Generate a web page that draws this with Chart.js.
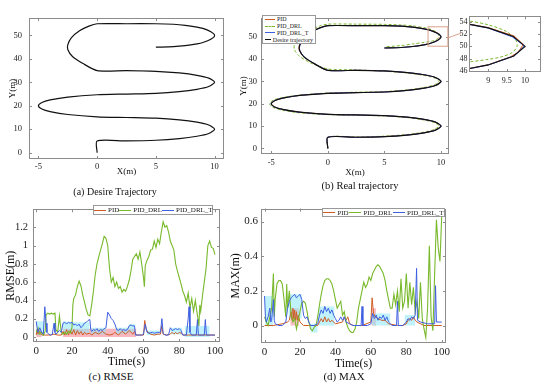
<!DOCTYPE html>
<html>
<head>
<meta charset="utf-8">
<script src="https://cdn.jsdelivr.net/npm/chart.js@4.4.1/dist/chart.umd.min.js"></script>
<style>
  body { margin: 0; width: 550px; height: 387px; background: #fff; position: relative; overflow: hidden; font-family: 'Liberation Serif', serif; }
  canvas { position: absolute; }
  .cap { position: absolute; transform: translate(-50%, -50%); white-space: nowrap; color: #111; }
  .lg { position: absolute; background: #fff; border: 1px solid #999; box-sizing: border-box; display: flex; color: #222; }
  .lg .it { display: flex; align-items: center; white-space: nowrap; }
  .lg .ln { display: inline-block; border-top-width: 1px; margin-right: 2px; }
</style>
</head>
<body>
<canvas id="chA"></canvas>
<canvas id="chB"></canvas>
<canvas id="chZ"></canvas>
<canvas id="chC"></canvas>
<canvas id="chD"></canvas>

<div class="lg" id="lgB" style="left:262px;top:15px;width:54px;height:29px;flex-direction:column;justify-content:space-around;padding:0 2px;font-size:6px"></div>
<div class="lg" id="lgC" style="left:93px;top:205px;width:120px;height:10px;align-items:center;justify-content:space-around;font-size:7px"></div>
<div class="lg" id="lgD" style="left:322px;top:208px;width:123px;height:9px;align-items:center;justify-content:space-around;font-size:7px"></div>

<div class="cap" style="left:115px;top:191px;font-size:10px">(a) Desire Trajectory</div>
<div class="cap" style="left:360px;top:185px;font-size:10.5px">(b) Real trajectory</div>
<div class="cap" style="left:111px;top:376px;font-size:11px">(c) RMSE</div>
<div class="cap" style="left:344px;top:376px;font-size:11px">(d) MAX</div>

<script>
// series names and colours
const seriesNames = ['PID', 'PID_DRL', 'PID_DRL_T'];
const seriesColors = ['#cf5b23', '#79b92c', '#3f5fe0'];
const desireName = 'Desire trajectory';
const desireColor = '#111';

// tick labels
const trajTicksX = [-5, 0, 5, 10];
const trajTicksY = [0, 10, 20, 30, 40, 50];
const zoomTicksX = [9, 9.5, 10];
const zoomTicksY = [46, 48, 50, 52, 54];
const timeTicks = [0, 20, 40, 60, 80, 100];
const rmseTicks = [0, 0.2, 0.4, 0.6, 0.8, 1, 1.2];
const maxTicks = [0, 0.2, 0.4, 0.6];

// zoomed window marked in (b): xmin, xmax, ymin, ymax
const zoomBox = [8.85, 10.6, 45.8, 54.5];

// trajectories [x, y] in metres
const desireTraj = [[0,0],[0,5],[2.5,5],[5,5.29],[7,6],[8.5,7],[9.5,8.2],[10,10],[9.5,11.8],[8.5,13],[7,14],[5,14.71],[2.5,15],[0,15.29],[-2.5,16.27],[-4,17.5],[-4.7,18.6],[-5,20],[-4.7,21.4],[-4,22.5],[-2.5,23.73],[0,24.71],[2.5,25],[5,25.29],[7,26],[8.5,27],[9.5,28.2],[10,30],[9.5,31.8],[8.5,33],[7,34],[5,34.71],[2.5,35],[0,35],[-1.2,38],[-2.1,41],[-2.5,44],[-2.5,46],[-2.2,49],[-1.5,52],[-0.7,54],[0,55],[2.5,55],[5,55],[6.5,54.77],[7.5,54.33],[8.5,53.57],[9,53],[9.68,51.6],[10,50],[9.68,48.4],[9,47],[8.5,46.43],[7.5,45.67],[6.5,45.23],[5,45]];
const pidTraj = [[0,0],[0,5],[2.5,5.02],[5,5.3],[7,6.02],[8.5,7.03],[9.5,8.25],[9.98,10],[9.5,11.8],[8.5,12.98],[7,13.98],[5,14.7],[2.5,15],[0,15.3],[-2.5,16.28],[-4,17.52],[-4.7,18.62],[-4.98,20],[-4.7,21.4],[-4,22.48],[-2.5,23.72],[0,24.7],[2.5,25],[5,25.3],[7,26.02],[8.5,27.03],[9.5,28.25],[9.98,30],[9.5,31.8],[8.5,32.98],[7,33.98],[5,34.7],[2.5,35],[0,35.02],[-1.22,38],[-2.12,41],[-2.52,44],[-2.52,46],[-2.22,49],[-1.52,52],[-0.72,54],[0,55.02],[2.5,55],[5,55],[6.5,54.78],[7.5,54.35],[8.5,53.6],[9,53.05],[9.7,51.7],[9.95,50.3],[9.8,49],[9.6,48.3],[9,47.02],[8.5,46.45],[7.5,45.68],[6.5,45.24],[5,45]];
const drlTraj = [[0,0],[0,5],[2.5,5.15],[5,5.5],[7,6.25],[8.5,7.3],[9.4,8.5],[9.8,10],[9.4,11.6],[8.4,12.8],[7,13.8],[5,14.55],[2.5,14.9],[0,15.15],[-2.5,15.95],[-4,17.1],[-4.85,18.4],[-5.15,20],[-4.85,21.6],[-4,22.8],[-2.5,23.9],[0,24.85],[2.5,25.2],[5,25.5],[7,26.25],[8.5,27.3],[9.4,28.5],[9.8,30],[9.4,31.6],[8.4,32.8],[7,33.8],[5,34.6],[2.5,35.2],[0,35.6],[-1.5,38.3],[-2.5,41.3],[-2.95,44.2],[-2.95,46.5],[-2.55,49.5],[-1.7,52.6],[-0.7,54.9],[0,55.7],[2.5,55.7],[5,55.6],[6.5,55.3],[7.5,54.9],[8.5,54.1],[9,53.5],[9.5,52.4],[9.75,51],[9.78,50],[9.65,49],[9.35,48.3],[9,47.9],[8.5,47.5],[7.5,46.8],[6.5,46.1],[5,45.5]];
const drlTTraj = [[0,0],[0,5],[2.5,4.98],[5,5.27],[7,5.98],[8.5,6.97],[9.5,8.18],[10.02,10],[9.5,11.82],[8.5,13.02],[7,14.02],[5,14.72],[2.5,15.01],[0,15.28],[-2.5,16.25],[-4,17.48],[-4.72,18.58],[-5.02,20],[-4.72,21.42],[-4,22.52],[-2.5,23.75],[0,24.72],[2.5,25.01],[5,25.28],[7,25.98],[8.5,26.97],[9.5,28.18],[10.02,30],[9.5,31.82],[8.5,33.02],[7,34.02],[5,34.72],[2.5,35.01],[0,34.98],[-1.18,38],[-2.08,41],[-2.48,44],[-2.48,46],[-2.18,49],[-1.48,52],[-0.68,54],[0,54.98],[2.5,55.01],[5,55.01],[6.5,54.76],[7.5,54.32],[8.5,53.55],[9,52.98],[9.65,51.55],[9.98,50.1],[9.72,48.5],[9,46.98],[8.5,46.4],[7.5,45.65],[6.5,45.22],[5,45]];

// RMSE [time s, value m]
const rmsePid = [[0,0.02],[0.5,0.08],[1,0.03],[2,0.06],[3,0.02],[5,0.02],[8,0.02],[10,0.03],[12,0.02],[14,0.02],[15,0.06],[16,0.02],[17,0.08],[18,0.02],[19,0.07],[20,0.03],[21,0.08],[22,0.02],[23,0.07],[24,0.03],[25,0.06],[26,0.02],[27,0.05],[28,0.03],[30,0.04],[31,0.02],[33,0.05],[35,0.03],[37,0.06],[39,0.03],[41,0.02],[43,0.03],[44,0.05],[46,0.02],[48,0.06],[50,0.03],[52,0.07],[54,0.03],[55,0.06],[56,0.02],[58,0.02],[60,0.02],[60.7,0.18],[61.5,0.08],[62.5,0.05],[64,0.03],[66,0.02],[68,0.03],[69.5,0.03],[70.2,0.12],[71,0.03],[73,0.02],[75,0.03],[76,0.05],[77,0.03],[78,0.05],[79,0.03],[80,0.05],[81,0.04],[82,0.02],[85,0.02],[90,0.02],[95,0.02],[100,0.02]];
const rmseDrl = [[0,0.05],[1,0.1],[2,0.03],[3,0.05],[4,0.02],[5,0.06],[5.5,0.24],[6.5,0.26],[7.5,0.25],[8.5,0.26],[9.5,0.25],[10.5,0.26],[11,0.08],[12,0.05],[13,0.23],[14,0.05],[15,0.03],[16,0.05],[17,0.03],[18,0.06],[19,0.04],[20,0.1],[20.5,0.35],[21,0.42],[22,0.46],[23,0.55],[24,0.61],[25,0.56],[26,0.46],[27,0.38],[28,0.3],[29,0.24],[30,0.23],[31,0.35],[32,0.5],[33,0.68],[34,0.8],[35,0.88],[36,0.95],[37,1.02],[38,1.1],[39,1.08],[40,1.0],[41,0.75],[42,0.6],[43,0.65],[44,0.55],[45,0.6],[46,0.53],[47,0.55],[48,0.49],[49,0.52],[50,0.5],[51,0.55],[52,0.62],[53,0.72],[54,0.85],[55,0.88],[56,0.91],[57,0.85],[58,0.93],[59,0.8],[60,0.65],[60.5,0.55],[61,0.78],[62,0.84],[63,0.88],[64,0.95],[65,0.96],[66,1.05],[67,0.98],[68,1.07],[69,1.02],[70,1.15],[71,1.26],[72,1.2],[73,1.22],[74,1.15],[75,1.05],[76,1.0],[77,0.95],[78,0.8],[79,0.72],[80,0.65],[81,0.58],[82,0.5],[83,0.45],[84,0.38],[85,0.48],[86,0.32],[87,0.42],[88,0.28],[89,0.4],[90,0.26],[91,0.12],[91.5,0.35],[92,0.28],[93,0.45],[94,0.6],[95,0.75],[96,1.0],[97,1.05],[98,0.98],[99,0.97],[100,0.9]];
const rmseDrlT = [[0,0.17],[0.5,0.1],[1,0.05],[2,0.1],[3,0.05],[4,0.03],[4.8,0.33],[5.5,0.15],[6,0.05],[7,0.03],[8,0.02],[9,0.03],[10,0.15],[10.5,0.05],[11,0.03],[12,0.05],[13,0.07],[14,0.05],[15,0.15],[16,0.16],[17,0.14],[18,0.16],[19,0.15],[20,0.16],[21,0.13],[22,0.14],[23,0.12],[24,0.14],[25,0.1],[26,0.12],[27,0.15],[28,0.16],[29,0.18],[30,0.19],[30.5,0.08],[31,0.06],[32,0.08],[33,0.07],[34,0.09],[35,0.06],[36,0.08],[37,0.07],[38,0.09],[39,0.1],[40,0.27],[41,0.24],[42,0.2],[43,0.18],[44,0.14],[45,0.08],[46,0.07],[47,0.09],[48,0.07],[49,0.08],[50,0.07],[51,0.08],[52,0.12],[53,0.13],[54,0.12],[55,0.12],[55.5,0.02],[57,0.02],[59,0.02],[60,0.03],[61,0.14],[62,0.05],[63,0.04],[65,0.05],[66,0.04],[68,0.05],[69.5,0.05],[70.3,0.2],[71,0.04],[72,0.02],[74,0.02],[75,0.1],[76,0.07],[77,0.08],[78,0.09],[79,0.08],[80,0.09],[81,0.07],[82,0.02],[84,0.02],[85,0.2],[85.5,0.33],[86,0.05],[87,0.02],[89.5,0.02],[90.2,0.19],[90.7,0.02],[94,0.02],[94.6,0.19],[95.2,0.02],[98,0.02],[100,0.02]];
// dense-oscillation envelopes [time, low, high]
const rmseCyan = [[0.3,0.02,0.17],[4.5,0.02,0.17],[4.6,null,null],[14.8,0.03,0.17],[21,0.04,0.16],[29.8,0.04,0.16],[30.2,null,null],[30.6,0.03,0.1],[39,0.03,0.1],[39.5,null,null],[44.5,0.03,0.1],[51.5,0.04,0.1],[51.8,0.05,0.14],[55.3,0.05,0.14],[55.6,null,null],[62,0.02,0.07],[69,0.02,0.07],[69.5,null,null],[75.2,0.03,0.1],[81.8,0.03,0.1],[82.5,null,null],[83,0,0.12],[97,0,0.12]];
const rmsePink = [[0,0,0.08],[3,0,0.08],[3.2,null,null],[15,0,0.09],[56,0,0.09]];

// MAX [time s, value m]
const maxPid = [[0,0],[5,0],[10,0.01],[13,0.02],[14,0.03],[15,0.08],[15.5,0.03],[16,0.1],[16.5,0.04],[17,0.09],[17.5,0.03],[18,0.08],[18.5,0.03],[19,0.06],[20,0.02],[22,0],[25,0],[30,0],[31,0.02],[32,0.04],[33,0.02],[34,0.05],[35,0.02],[36,0.04],[37,0.02],[38,0.03],[40,0.01],[44,0.02],[45,0.05],[46,0.03],[47,0.05],[48,0.01],[50,0],[55,0],[60,0.02],[60.7,0.16],[61.5,0.07],[62.5,0.05],[64,0.04],[66,0.03],[68,0.03],[70,0.01],[75,0],[78,0],[80,0.01],[81,0.03],[82,0.04],[83,0.03],[84,0.05],[85,0.03],[86,0.02],[90,0],[95,0],[100,0]];
const maxDrl = [[0,0.05],[1,0.02],[2,0],[3,0.05],[4,0.1],[5,0.3],[5.5,0.05],[6,0.15],[7,0.24],[8,0.26],[9,0.26],[10,0.24],[11,0.15],[12,0.05],[12.5,0.24],[13,0.1],[14,0.2],[15,0.06],[16,0.02],[17,0.04],[18,-0.02],[19,0.03],[20,0.08],[21,0.13],[22,0.14],[23,0.13],[24,0.08],[25,0.02],[26,-0.02],[27,-0.03],[28,-0.01],[29,0],[30,0.05],[31,0.12],[32,0.18],[33,0.23],[34,0.26],[35,0.27],[36,0.27],[37,0.26],[38,0.24],[39,0.2],[40,0.15],[41,0.1],[42,0.12],[43,0.14],[44,0.06],[45,0.08],[46,0.02],[47,-0.01],[48,-0.03],[49,-0.04],[50,-0.04],[51,-0.02],[52,0.02],[53,0.1],[54,0.15],[55,0.2],[56,0.25],[57,0.22],[58,0.24],[59,0.28],[60,0.26],[61,0.3],[62,0.32],[63,0.34],[64,0.35],[65,0.34],[66,0.32],[67,0.3],[68,0.26],[69,0.2],[70,0.15],[71,0.1],[72,0.1],[73,0.18],[74,0.12],[75,0.2],[76,0.08],[77,0.27],[78,0.1],[79,0.14],[80,0.3],[81,0.1],[82,0.25],[83,0.12],[84,0.22],[85,0.08],[86,0.14],[87,0.04],[88,0.25],[89,0.04],[90,-0.02],[91,-0.07],[92,0.1],[93,0.46],[94,0.05],[95,-0.03],[96,0.3],[97,0.61],[98,0.45],[99,0.37],[100,0.64]];
const maxDrlT = [[0,0.17],[0.5,0.05],[1,0.02],[2,0.05],[3,0.1],[3.5,0.02],[4,0.03],[5,0.15],[5.5,0.03],[6,0.01],[8,0],[10,0],[12,0.02],[13,0.1],[14,0.14],[15,0.16],[16,0.17],[17,0.18],[18,0.16],[19,0.17],[20,0.18],[21,0.15],[22,0.06],[23,0.04],[24,0.05],[25,0.02],[26,0],[28,0],[30,0.01],[31,0.06],[32,0.09],[33,0.07],[34,0.11],[35,0.08],[36,0.1],[37,0.07],[38,0.09],[39,0.06],[40,0.04],[41,0.02],[42,0.03],[43,0.05],[44,0.03],[45,0.05],[46,0.02],[48,0.01],[50,0],[54.5,0],[55,0.11],[55.5,0],[58,0],[60,0.01],[61,0.07],[62,0.04],[63,0.06],[64,0.03],[65,0.05],[66,0.04],[67,0.06],[68,0.03],[69,0.05],[70,0.02],[72,0],[74.5,0],[75,0.14],[75.5,0],[78,0],[80,0.02],[81,0.04],[82,0.03],[83,0.05],[84,0.04],[85,0.06],[85.8,0.33],[86.3,0.03],[88,0.02],[92,0.01],[96,0.01],[96.5,0.23],[97,0.02],[100,0.02]];
const maxCyan = [[0.3,0,0.17],[5,0,0.17],[5.3,null,null],[13.5,0.04,0.18],[21,0.04,0.18],[21.3,null,null],[26,-0.04,0.01],[30,-0.04,0.01],[30.3,null,null],[30.6,0,0.11],[39.5,0,0.11],[40,null,null],[60.5,0,0.07],[71,0,0.07],[71.5,null,null],[79,0,0.06],[85,0,0.06]];
const maxPink = [[14.5,0,0.1],[19.5,0,0.1],[20,null,null],[60.3,0,0.1],[63,0,0.1]];

const serif = 'Liberation Serif';

// put a canvas so that its plot area lands on box (page px)
function place(id, box, pad) {
  const c = document.getElementById(id);
  const left = box.l - pad.yw, top = box.t - pad.t;
  c.width = box.r - left + pad.r;
  c.height = box.b - top + pad.xh;
  c.style.left = left + 'px';
  c.style.top = top + 'px';
  return c;
}

function scaleCfg(axis, min, max, tickVals, o) {
  return {
    type: 'linear', min, max,
    grid: { display: false, drawTicks: false },
    border: { display: false },
    afterBuildTicks: s => { s.ticks = tickVals.map(v => ({ value: v })); },
    afterFit: s => { if (axis === 'x') s.height = o.size; else s.width = o.size; },
    ticks: { font: { family: serif, size: o.tickSize }, color: '#222', padding: o.tickPad, maxRotation: 0, autoSkip: false, callback: v => String(v) },
    title: { display: !!o.title, text: o.title || '', font: { family: serif, size: o.titleSize || 9 }, color: '#111', padding: o.titlePad || 0 }
  };
}

function lineDs(label, pairs, color, o = {}) {
  return {
    label, data: pairs.map(p => ({ x: p[0], y: p[1] })),
    borderColor: color, borderWidth: o.w || 1, borderDash: o.dash || [],
    pointRadius: 0, showLine: true, tension: o.tension || 0, fill: false, order: o.order || 0
  };
}

function bandDs(rows, color) {
  return [
    { label: 'lo', data: rows.map(r => ({ x: r[0], y: r[1] })), borderColor: 'rgba(0,0,0,0)', borderWidth: 1, pointRadius: 0, showLine: true, fill: false, order: 30 },
    { label: 'hi', data: rows.map(r => ({ x: r[0], y: r[2] })), borderColor: 'rgba(0,0,0,0)', borderWidth: 1, pointRadius: 0, showLine: true, fill: '-1', backgroundColor: color, order: 29 }
  ];
}

// box around the plot with small inward ticks
const frame = {
  id: 'frame',
  afterDatasetsDraw(chart) {
    const { ctx, chartArea: a, scales: { x, y } } = chart;
    const len = 3;
    ctx.save();
    ctx.strokeStyle = '#8c8c8c';
    ctx.lineWidth = 1;
    ctx.strokeRect(Math.round(a.left) + 0.5, Math.round(a.top) + 0.5, Math.round(a.width) - 1, Math.round(a.height) - 1);
    ctx.beginPath();
    x.ticks.forEach(t => {
      const p = Math.round(x.getPixelForValue(t.value)) + 0.5;
      ctx.moveTo(p, a.bottom); ctx.lineTo(p, a.bottom - len);
      ctx.moveTo(p, a.top); ctx.lineTo(p, a.top + len);
    });
    y.ticks.forEach(t => {
      const p = Math.round(y.getPixelForValue(t.value)) + 0.5;
      ctx.moveTo(a.left, p); ctx.lineTo(a.left + len, p);
      ctx.moveTo(a.right, p); ctx.lineTo(a.right - len, p);
    });
    ctx.stroke();
    ctx.restore();
  }
};

// red box in (b) and the leader to the inset
const zoomMark = {
  id: 'zoomMark',
  afterDatasetsDraw(chart) {
    const { ctx, chartArea: a, scales: { x, y } } = chart;
    const l = x.getPixelForValue(zoomBox[0]), r = x.getPixelForValue(zoomBox[1]);
    const t = y.getPixelForValue(zoomBox[3]), b = y.getPixelForValue(zoomBox[2]);
    ctx.save();
    ctx.strokeStyle = '#d9a28c';
    ctx.lineWidth = 1;
    ctx.strokeRect(l, t, r - l, b - t);
    ctx.beginPath();
    ctx.moveTo(r, y.getPixelForValue(49.5));
    ctx.lineTo(a.right + 12, a.top + 15);
    ctx.stroke();
    ctx.restore();
  }
};

function opts(pad, xs, ys) {
  return {
    responsive: false, animation: false, devicePixelRatio: 1, events: [],
    layout: { padding: { top: pad.t, right: pad.r, left: 0, bottom: 0 } },
    plugins: { legend: { display: false }, tooltip: { enabled: false } },
    scales: { x: xs, y: ys }
  };
}

function fillLegend(id, names, colors, dashed, lineW) {
  const el = document.getElementById(id);
  names.forEach((n, i) => {
    const it = document.createElement('span');
    it.className = 'it';
    const ln = document.createElement('span');
    ln.className = 'ln';
    ln.style.width = lineW + 'px';
    ln.style.borderTopColor = colors[i];
    ln.style.borderTopStyle = dashed[i] ? 'dashed' : 'solid';
    it.appendChild(ln);
    it.appendChild(document.createTextNode(n));
    el.appendChild(it);
  });
}

// (a) desired trajectory
const padA = { yw: 29, t: 5, r: 8, xh: 20 };
new Chart(place('chA', { l: 29, t: 11, r: 224, b: 159 }, padA), {
  type: 'scatter',
  data: { datasets: [lineDs(desireName, desireTraj, desireColor, { w: 1.2, tension: 0.25 })] },
  options: opts(padA,
    scaleCfg('x', -5.8, 10.8, trajTicksX, { size: padA.xh, tickSize: 8.5, tickPad: 3, title: 'X(m)', titleSize: 9, titlePad: { top: 0, bottom: 1.6 } }),
    scaleCfg('y', -2.7, 57.4, trajTicksY, { size: padA.yw, tickSize: 8.5, tickPad: 7, title: 'Y(m)', titleSize: 9, titlePad: { top: 7, bottom: 0 } })),
  plugins: [frame]
});

// (b) real trajectories
const padB = { yw: 30, t: 5, r: 22, xh: 24 };
new Chart(place('chB', { l: 261, t: 14, r: 449, b: 154 }, padB), {
  type: 'scatter',
  data: { datasets: [
    lineDs(desireName, desireTraj, desireColor, { w: 1.2, tension: 0.25, order: 0 }),
    lineDs(seriesNames[2], drlTTraj, seriesColors[2], { w: 1, tension: 0.25, order: 1 }),
    lineDs(seriesNames[0], pidTraj, seriesColors[0], { w: 1, tension: 0.25, order: 2 }),
    lineDs(seriesNames[1], drlTraj, seriesColors[1], { w: 1, tension: 0.25, dash: [3, 2], order: 3 })
  ] },
  options: opts(padB,
    scaleCfg('x', -5.9, 10.7, trajTicksX, { size: padB.xh, tickSize: 8.5, tickPad: 4, title: 'X(m)', titleSize: 9, titlePad: { top: 0, bottom: 0 } }),
    scaleCfg('y', -2.5, 58.4, trajTicksY, { size: padB.yw, tickSize: 8.5, tickPad: 4, title: 'Y(m)', titleSize: 9, titlePad: { top: 7.3, bottom: 0 } })),
  plugins: [frame, zoomMark]
});

// inset: zoom on the upper turn
const padZ = { yw: 14, t: 3, r: 4, xh: 14 };
new Chart(place('chZ', { l: 469, t: 13, r: 541, b: 72 }, padZ), {
  type: 'scatter',
  data: { datasets: [
    lineDs(desireName, desireTraj, desireColor, { w: 1.1, order: 0 }),
    lineDs(seriesNames[2], drlTTraj, seriesColors[2], { w: 1, order: 1 }),
    lineDs(seriesNames[0], pidTraj, seriesColors[0], { w: 1, order: 2 }),
    lineDs(seriesNames[1], drlTraj, seriesColors[1], { w: 1, tension: 0.3, dash: [3, 2], order: 3 })
  ] },
  options: opts(padZ,
    scaleCfg('x', 8.48, 10.43, zoomTicksX, { size: padZ.xh, tickSize: 8, tickPad: 4 }),
    scaleCfg('y', 45.85, 54.88, zoomTicksY, { size: padZ.yw, tickSize: 8, tickPad: 1.5 })),
  plugins: [frame]
});

// (c) RMSE
const padC = { yw: 33, t: 6, r: 10, xh: 27 };
new Chart(place('chC', { l: 33, t: 204, r: 220, b: 342 }, padC), {
  type: 'scatter',
  data: { datasets: [
    ...bandDs(rmseCyan, 'rgba(140,232,248,0.55)'),
    ...bandDs(rmsePink, 'rgba(240,95,110,0.45)'),
    lineDs(seriesNames[2], rmseDrlT, seriesColors[2], { w: 1, order: 0 }),
    lineDs(seriesNames[1], rmseDrl, seriesColors[1], { w: 1.1, order: 1 }),
    lineDs(seriesNames[0], rmsePid, seriesColors[0], { w: 1, order: 2 })
  ] },
  options: opts(padC,
    scaleCfg('x', -1.8, 102.8, timeTicks, { size: padC.xh, tickSize: 11, tickPad: 3, title: 'Time(s)', titleSize: 12, titlePad: { top: 0, bottom: 0 } }),
    scaleCfg('y', -0.056, 1.397, rmseTicks, { size: padC.yw, tickSize: 10.5, tickPad: 5, title: 'RMSE(m)', titleSize: 12, titlePad: { top: 3.5, bottom: 0 } })),
  plugins: [frame]
});

// (d) MAX
const padD = { yw: 32, t: 6, r: 10, xh: 28 };
new Chart(place('chD', { l: 261, t: 205, r: 446, b: 343 }, padD), {
  type: 'scatter',
  data: { datasets: [
    ...bandDs(maxCyan, 'rgba(140,232,248,0.55)'),
    ...bandDs(maxPink, 'rgba(240,95,110,0.4)'),
    lineDs(seriesNames[2], maxDrlT, seriesColors[2], { w: 1, order: 0 }),
    lineDs(seriesNames[1], maxDrl, seriesColors[1], { w: 1.1, order: 1 }),
    lineDs(seriesNames[0], maxPid, seriesColors[0], { w: 1, order: 2 })
  ] },
  options: opts(padD,
    scaleCfg('x', -2, 102.4, timeTicks, { size: padD.xh, tickSize: 11, tickPad: 3, title: 'Time(s)', titleSize: 12, titlePad: { top: 0, bottom: 0 } }),
    scaleCfg('y', -0.101, 0.675, maxTicks, { size: padD.yw, tickSize: 11, tickPad: 3, title: 'MAX(m)', titleSize: 12, titlePad: { top: 0, bottom: 0 } })),
  plugins: [frame]
});

// legends
fillLegend('lgB', seriesNames.concat([desireName]), seriesColors.concat([desireColor]), [false, true, false, false], 10);
fillLegend('lgC', seriesNames, seriesColors, [false, false, false], 12);
fillLegend('lgD', seriesNames, seriesColors, [false, false, false], 12);
</script>
</body>
</html>
